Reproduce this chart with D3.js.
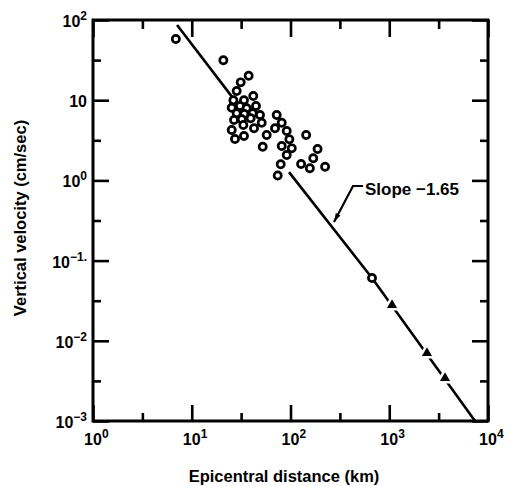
<!DOCTYPE html>
<html>
<head>
<meta charset="utf-8">
<script src="https://cdn.jsdelivr.net/npm/d3@7"></script>
<style>
  body { margin: 0; background: #fff; }
  svg text { font-family: "Liberation Sans", Arial, sans-serif; font-weight: bold; fill: #000; }
</style>
</head>
<body>
<div id="vis"></div>
<script>
// epicentral distance (km) and vertical velocity (cm/sec), open circles
var circleDist = [6.9, 20.9, 37.7, 31.3, 28.5, 42.0, 26.4, 33.8, 25.4, 30.8, 36.0, 44.7,
    28.5, 34.1, 41.4, 49.1, 26.8, 32.1, 39.5, 33.3, 42.7, 51.1, 25.4, 33.8, 27.4, 57.4,
    72.5, 69.7, 81.5, 91.6, 97.3, 81.5, 103, 91.6, 52.3, 79.6, 74.2,
    144, 188, 170, 128, 157, 224, 669];
var circleVel = [57.9, 31.5, 20.2, 16.7, 13.0, 11.3, 10.0, 10.0, 8.05, 8.47, 7.93, 8.47,
    6.87, 6.73, 6.87, 6.53, 5.66, 5.78, 5.95, 4.91, 4.47, 5.24, 4.25, 3.58, 3.28, 3.68,
    6.53, 4.47, 5.24, 4.13, 3.25, 2.69, 2.51, 2.07, 2.63, 1.59, 1.15,
    3.68, 2.46, 1.89, 1.60, 1.42, 1.48, 0.0607];

// filled triangles
var triDist = [1067, 2411, 3671];
var triVel = [0.0279, 0.00705, 0.00344];

// fitted line (slope -1.65), drawn in two pieces with a gap through the cloud
var fitUpper = [[7.1, 86.7], [25.6, 11.0]];
var fitLower = [[96.6, 1.27], [669, 0.0607], [7390, 0.001]];

var xMajor = [1, 10, 100, 1000, 10000];
var xMinor = [3.162, 31.62, 316.2, 3162];
var yMajor = [0.001, 0.01, 0.1, 1, 10, 100];
var yMinor = [0.003162, 0.03162, 0.3162, 3.162, 31.62];

var xTickLabels = [["10", "0"], ["10", "1"], ["10", "2"], ["10", "3"], ["10", "4"]];
var yTickLabels = [["10", "\u22123"], ["10", "\u22122"], ["10", "\u22121."], ["10", "0"], ["10", ""], ["10", "2"]];

var width = 510, height = 486;
var plotL = 93, plotR = 488, plotT = 20, plotB = 421;

var svg = d3.select("#vis").append("svg")
    .attr("width", width)
    .attr("height", height);

var x = d3.scaleLog().domain([1, 1e4]).range([plotL, plotR]);
var y = d3.scaleLog().domain([1e-3, 1e2]).range([plotB, plotT]);

// ticks on all four sides, pointing inward
function ticks(axisFn, scale, vals, size, tx, ty) {
    var g = svg.append("g")
        .attr("transform", "translate(" + tx + "," + ty + ")")
        .call(axisFn(scale).tickValues(vals).tickSize(size).tickFormat(""));
    g.select(".domain").remove();
    g.selectAll(".tick line").attr("stroke", "#000").attr("stroke-width", 2.6);
}
ticks(d3.axisBottom, x, xMajor, -16, 0, plotB);
ticks(d3.axisBottom, x, xMinor, -8, 0, plotB);
ticks(d3.axisTop, x, xMajor, -17, 0, plotT);
ticks(d3.axisTop, x, xMinor, -9, 0, plotT);
ticks(d3.axisLeft, y, yMajor, -16, plotL, 0);
ticks(d3.axisLeft, y, yMinor, -8, plotL, 0);
ticks(d3.axisRight, y, yMajor, -16, plotR, 0);
ticks(d3.axisRight, y, yMinor, -8, plotR, 0);

svg.append("rect")
    .attr("x", plotL).attr("y", plotT)
    .attr("width", plotR - plotL).attr("height", plotB - plotT)
    .attr("fill", "none")
    .attr("stroke", "#000")
    .attr("stroke-width", 3);

// tick labels with superscripts
xMajor.forEach(function (v, i) {
    var t = svg.append("text")
        .attr("y", 445)
        .style("font-size", "16px");
    var base = t.append("tspan").text(xTickLabels[i][0]);
    t.append("tspan").attr("dy", -7).style("font-size", "12px").text(xTickLabels[i][1]);
    var w = base.node().getComputedTextLength();
    t.attr("x", x(v) - w / 2);
});

yMajor.forEach(function (v, i) {
    var t = svg.append("text")
        .attr("x", 87)
        .attr("y", y(v) + 7)
        .attr("text-anchor", "end")
        .style("font-size", "16px");
    t.append("tspan").text(yTickLabels[i][0]);
    if (yTickLabels[i][1])
        t.append("tspan").attr("dy", -7).style("font-size", "12px").text(yTickLabels[i][1]);
});

// axis titles
svg.append("text")
    .attr("x", 284).attr("y", 482)
    .attr("text-anchor", "middle")
    .style("font-size", "16.5px")
    .text("Epicentral distance (km)");

svg.append("text")
    .attr("transform", "translate(26,218) rotate(-90)")
    .attr("text-anchor", "middle")
    .style("font-size", "16.5px")
    .text("Vertical velocity (cm/sec)");

// fitted line
var line = d3.line().x(d => x(d[0])).y(d => y(d[1]));
[fitUpper, fitLower].forEach(function (seg) {
    svg.append("path")
        .attr("d", line(seg))
        .attr("fill", "none")
        .attr("stroke", "#000")
        .attr("stroke-width", 2.6);
});

// circles
svg.selectAll(".obs")
    .data(circleDist.map((d, i) => [d, circleVel[i]]))
    .enter().append("circle")
    .attr("class", "obs")
    .attr("cx", d => x(d[0]))
    .attr("cy", d => y(d[1]))
    .attr("r", 3.6)
    .attr("fill", "#fff")
    .attr("stroke", "#000")
    .attr("stroke-width", 2.7);

// triangles with a white halo (line is broken around them)
var tri = d3.symbol().type(d3.symbolTriangle).size(44);
var triData = triDist.map((d, i) => [d, triVel[i]]);
svg.selectAll(".tri")
    .data(triData)
    .enter().append("path")
    .attr("class", "tri")
    .attr("transform", d => "translate(" + x(d[0]) + "," + y(d[1]) + ")")
    .attr("d", tri)
    .attr("fill", "#000")
    .attr("stroke", "#fff")
    .attr("stroke-width", 5)
    .attr("paint-order", "stroke");

// slope annotation with leader arrow
var tip = [275.8, 0.303], elbow = [429.5, 0.851], end = [542, 0.851];
svg.append("defs").append("marker")
    .attr("id", "arr")
    .attr("viewBox", "0 0 10 10")
    .attr("refX", 10).attr("refY", 5)
    .attr("markerWidth", 4.5).attr("markerHeight", 4)
    .attr("orient", "auto")
    .append("path").attr("d", "M0,2L10,5L0,8Z").attr("fill", "#000");

svg.append("path")
    .attr("d", line([end, elbow, tip]))
    .attr("fill", "none")
    .attr("stroke", "#000")
    .attr("stroke-width", 2.2)
    .attr("marker-end", "url(#arr)");

svg.append("text")
    .attr("x", x(568)).attr("y", 195)
    .style("font-size", "17px")
    .text("Slope \u22121.65");
</script>
</body>
</html>
